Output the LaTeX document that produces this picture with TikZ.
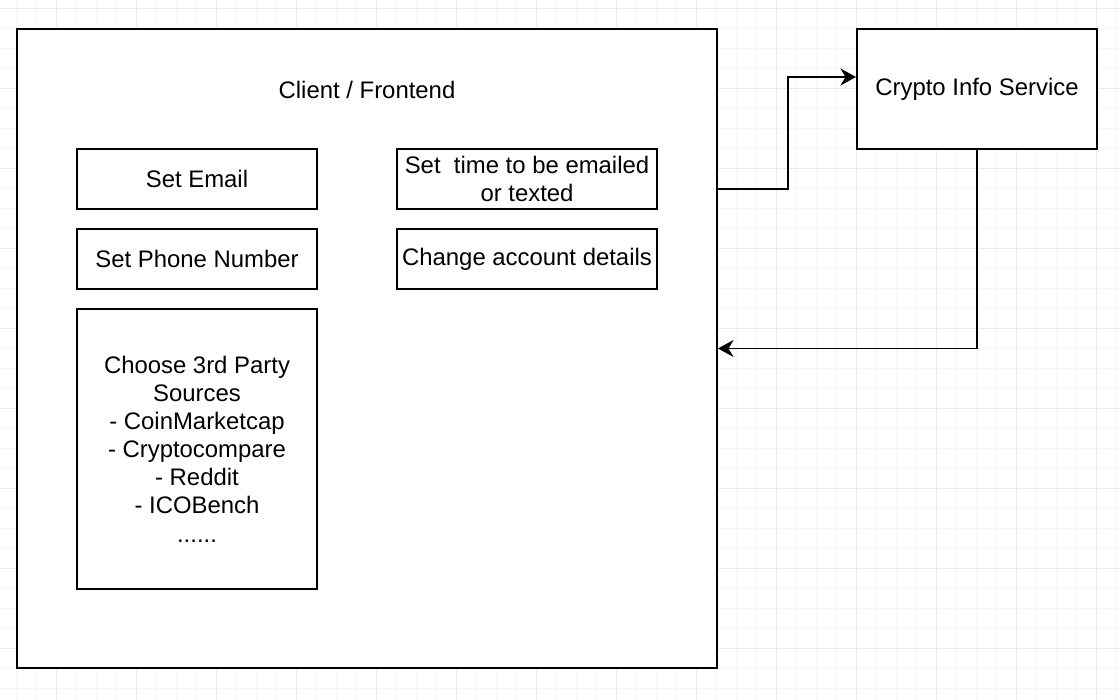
\documentclass[tikz,border=0pt]{standalone}
\usepackage{fontspec}
\setmainfont{Liberation Sans}
\usepackage{tikz}
\usetikzlibrary{calc, arrows.meta}

\begin{document}
\begin{tikzpicture}[
    gridminor/.style={draw=black!4, line width=0.6pt},
    gridmajor/.style={draw=black!8, line width=0.8pt},
    box/.style={rectangle, draw=black, fill=white, line width=1.4pt, font=\fontsize{17}{20}\selectfont, align=center, inner sep=0pt},
    link/.style={draw=black, line width=1.4pt, -{Stealth[length=11pt, width=12pt, inset=3.5pt]}}
    ]
    \useasboundingbox (0,0) rectangle (28,17.5);
    \fill[white] (0,0) rectangle (28,17.5);
    
    \begin{scope}
    \clip (0,0) rectangle (28,17.5);
    \draw[gridminor, shift={(0.4175,0.2925)}] (-1,-1) grid[step=0.5] (29,18);
    \draw[gridmajor, shift={(1.4175,1.2925)}] (-2,-2) grid[step=2] (28,18);
    \end{scope}
    
    \node[box, minimum width=17.5cm, minimum height=15.975cm] (client) at (9.175,8.7875) {};
    
    \node[font=\fontsize{17}{20}\selectfont] (clientlabel) at (9.175,15.25) {Client / Frontend};
    
    \node[box, minimum width=6cm, minimum height=1.5cm] (email) at (4.925,13.025) {Set Email};
    
    \node[box, minimum width=6cm, minimum height=1.5cm] (phone) at ($(email) + (0,-2)$) {Set Phone Number};
    
    \node[box, minimum width=6cm, minimum height=7cm] (sources) at ($(phone) + (0,-4.75)$) {Choose 3rd Party\\Sources\\- CoinMarketcap\\- Cryptocompare\\- Reddit\\- ICOBench\\......};
    
    \node[box, minimum width=6.5cm, minimum height=1.5cm] (timing) at ($(email) + (8.25,0)$) {Set~ time to be emailed\\or texted};
    
    \node[box, minimum width=6.5cm, minimum height=1.5cm] (account) at ($(timing) + (0,-2)$) {Change account details};
    
    \node[box, minimum width=6cm, minimum height=3cm] (service) at (24.425,15.275) {Crypto Info Service};
    
    \coordinate (out) at ($(client.east) + (0,3.9875)$);
    \coordinate (in) at ($(service.west) + (0,0.3)$);
    
    \draw[link] (out) -- ++(1.75,0) |- (in);
    \draw[link] (service.south) |- (client.east);
    
\end{tikzpicture}
\end{document}
